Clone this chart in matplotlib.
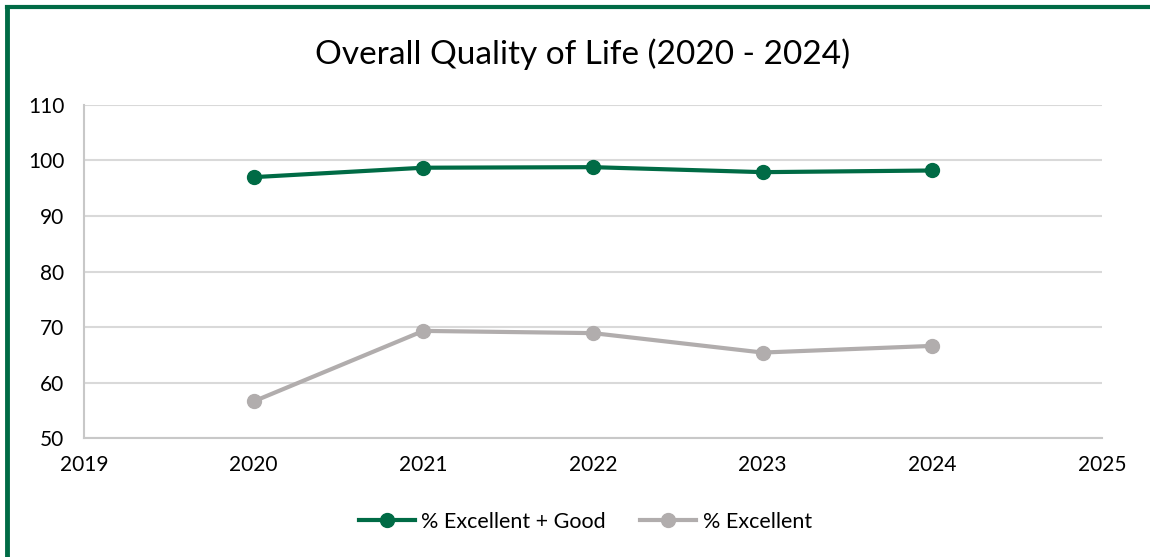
import matplotlib.pyplot as plt
from matplotlib.lines import Line2D

years = [2020, 2021, 2022, 2023, 2024]
excellent_good = [97.0, 98.7, 98.8, 97.9, 98.2]
excellent = [56.6, 69.3, 68.9, 65.4, 66.6]

green = '#006b45'
grey = '#b1adad'

plt.rcParams['font.family'] = ['Lato', 'DejaVu Sans']

fig = plt.figure(figsize=(11.5, 5.57), dpi=100)
ax = fig.add_axes([0.073, 0.2136, 0.8853, 0.5979])

ax.plot(years, excellent_good, color=green, lw=3, marker='o', ms=10,
        label='% Excellent + Good')
ax.plot(years, excellent, color=grey, lw=3, marker='o', ms=10,
        label='% Excellent')

ax.set_xlim(2019, 2025)
ax.set_ylim(50, 110)
ax.set_xticks(range(2019, 2026))
ax.set_yticks(range(50, 111, 10))
ax.grid(axis='y', color='#d9d9d9', lw=1.5)
ax.set_axisbelow(True)
for s in ['top', 'right']:
    ax.spines[s].set_visible(False)
for s in ['left', 'bottom']:
    ax.spines[s].set_color('#c8c8c8')
    ax.spines[s].set_linewidth(1.5)
ax.tick_params(length=0, labelsize=15, pad=12)
ax.tick_params(axis='y', pad=14)

fig.text(0.507, 0.902, 'Overall Quality of Life (2020 - 2024)', ha='center',
         va='center', fontsize=24)

fig.legend(loc='center', bbox_to_anchor=(0.509, 0.063), ncol=2, frameon=False,
           fontsize=15.5, handlelength=2.6, columnspacing=1.6, handletextpad=0.3)

# green frame on top and left
fig.add_artist(Line2D([0.0065, 1], [0.9875, 0.9875], color=green, lw=3,
                      transform=fig.transFigure))
fig.add_artist(Line2D([0.0065, 0.0065], [0, 0.9875], color=green, lw=3.5,
                      transform=fig.transFigure))

fig.savefig('out.png')
plt.close(fig)
